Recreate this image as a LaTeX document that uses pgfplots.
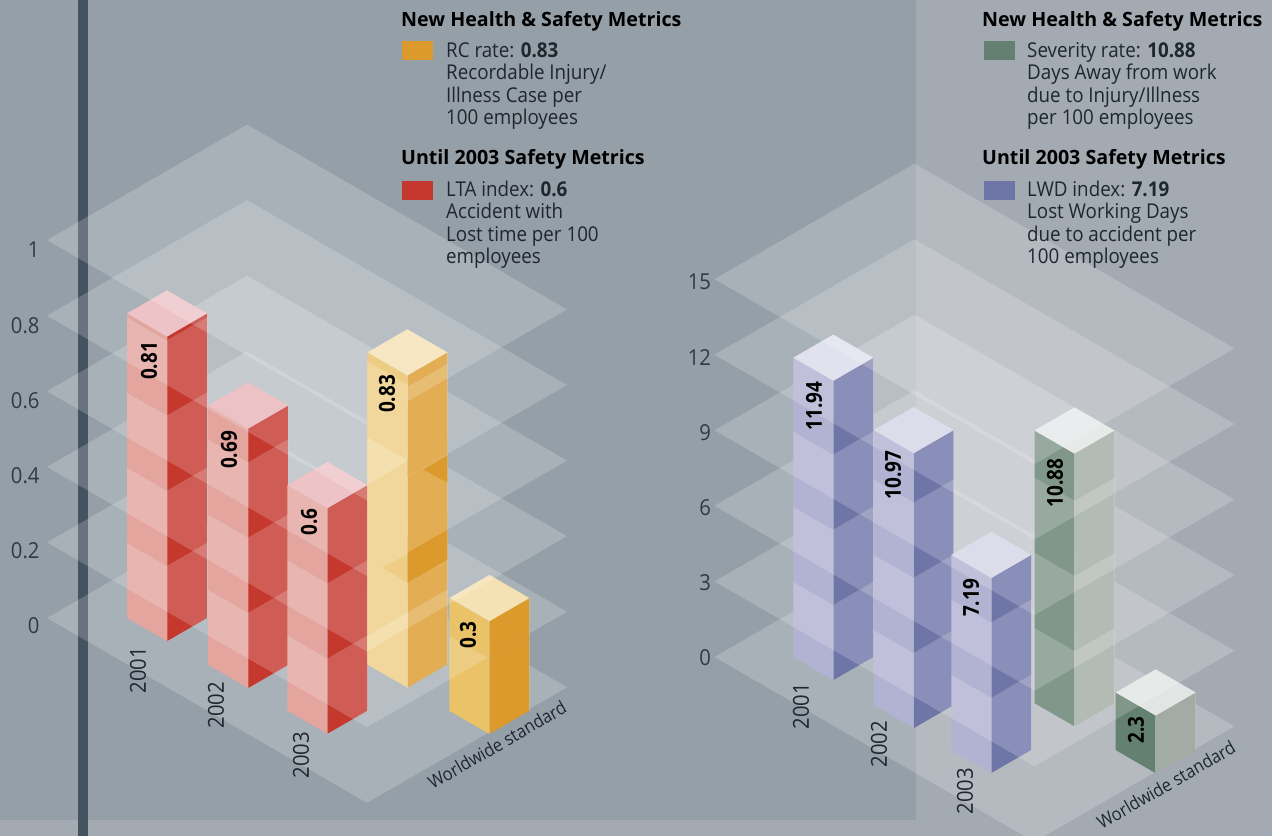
\documentclass[border=0pt]{standalone}
\usepackage{fontspec}
\setmainfont{Open Sans}
\newfontfamily\narrowb[FakeStretch=0.92]{Open Sans}
\newfontfamily\narrowc[FakeStretch=0.86]{Open Sans}
\usepackage{pgfplots}
\pgfplotsset{compat=1.18}

\definecolor{bgdark}{RGB}{149,159,167}
\definecolor{bglight}{RGB}{163,170,177}
\definecolor{band}{RGB}{69,83,97}
\definecolor{inktick}{RGB}{46,58,70}
\definecolor{inkbody}{RGB}{30,38,46}
% bar faces: left, right, top
\definecolor{redL}{RGB}{227,165,158}
\definecolor{redR}{RGB}{197,56,46}
\definecolor{redT}{RGB}{237,195,199}
\definecolor{redU}{RGB}{233,181,186}
\definecolor{yelL}{RGB}{234,194,103}
\definecolor{yelL1}{RGB}{238,205,132}
\definecolor{yelL2}{RGB}{241,215,155}
\definecolor{yelL3}{RGB}{244,224,175}
\definecolor{yelR}{RGB}{220,154,44}
\definecolor{yelR1}{RGB}{227,173,84}
\definecolor{yelT}{RGB}{245,226,180}
\definecolor{bluL}{RGB}{178,178,210}
\definecolor{bluR}{RGB}{110,118,168}
\definecolor{bluT}{RGB}{220,220,235}
\definecolor{bluU}{RGB}{212,212,230}
\definecolor{grnL}{RGB}{100,128,112}
\definecolor{grnR}{RGB}{162,172,164}
\definecolor{grnT}{RGB}{225,230,228}

\pgfplotsset{
  isochart/.style={
    anchor=origin, disabledatascaling, clip=false,
    x={(40pt,-23.1pt)}, y={(40pt,23.1pt)},
    xmin=0, xmax=8, ymin=0, ymax=5, zmin=0,
    xtick=\empty, ytick=\empty,
    axis line style={draw=none},
    tick style={draw=none},
    /pgf/number format/assume math mode=true,
    ticklabel style={font=\fontsize{22}{22}\selectfont\narrowb, text=inktick},
  },
}

% one translucent level
\newcommand\plane[1]{%
  \addplot3[fill=white, draw=none, fill opacity=0.19] coordinates {(0,0,#1) (8,0,#1) (8,5,#1) (0,5,#1)};}

% part of a bar between two levels: u0 u1 v0 v1 value colour top-colour zlo zhi
\newcommand\block[9]{%
  \ifdim #8pt<#5pt
    \pgfmathsetmacro\ztop{min(#5,#9)}%
    \addplot3[fill=#6L, draw=none] coordinates {(#1,#3,#8) (#2,#3,#8) (#2,#3,\ztop) (#1,#3,\ztop)};
    \addplot3[fill=#6R, draw=none] coordinates {(#2,#3,#8) (#2,#4,#8) (#2,#4,\ztop) (#2,#3,\ztop)};
    \addplot3[draw=white, draw opacity=0.18, line width=0.6pt] coordinates {(#2,#3,#8) (#2,#3,\ztop)};
    \addplot3[draw=white, draw opacity=0.18, line width=0.6pt] coordinates {(#2,#4,#8) (#2,#4,\ztop)};
  \fi
  \ifdim #8pt>#5pt\else\ifdim #9pt>#5pt
    \addplot3[fill=#7, draw=none] coordinates {(#1,#3,#5) (#2,#3,#5) (#2,#4,#5) (#1,#4,#5)};
  \fi\fi}

% back to front
\newcommand\barsA[2]{%
  \block{1}{2}{1}{2}{0.81}{red}{redT}{#1}{#2}
  \block{3.03}{4.03}{1}{2}{0.69}{red}{redU}{#1}{#2}
  \block{5.01}{6.01}{3}{4}{0.83}{yel}{yelT}{#1}{#2}
  \block{5.01}{6.01}{1}{2}{0.6}{red}{redT}{#1}{#2}
  \block{7.04}{8.04}{3.02}{4.02}{0.3}{yel}{yelT}{#1}{#2}}
% the 2003 bar is drawn taller in the reference than its 7.19 label
\newcommand\barsB[2]{%
  \block{0.985}{1.985}{0.985}{1.985}{11.94}{blu}{bluT}{#1}{#2}
  \block{3.03}{4.03}{0.95}{1.95}{10.97}{blu}{bluU}{#1}{#2}
  \block{5}{6}{3}{4}{10.88}{grn}{grnT}{#1}{#2}
  \block{4.97}{5.97}{0.95}{1.95}{7.78}{blu}{bluU}{#1}{#2}
  \block{7.03}{8.03}{3}{4}{2.3}{grn}{grnT}{#1}{#2}}

\newcommand\ltitle[3]{\node[anchor=base west, inner sep=0pt, font=\fontsize{19.65}{20}\selectfont\bfseries, text=black] at (#1pt,-#2pt) {#3};}
\newcommand\lbody[3]{\node[anchor=base west, inner sep=0pt, font=\fontsize{20.4}{20}\selectfont\narrowb, text=inkbody] at (#1pt,-#2pt) {#3};}
\newcommand\vlabel[3]{\node[rotate=90, inner sep=0pt, font=\fontsize{22}{22}\selectfont\narrowc\bfseries, text=black] at (#1pt,-#2pt) {#3};}
\newcommand\xlabel[3]{\node[rotate=90, inner sep=0pt, font=\fontsize{22}{22}\selectfont\narrowb, text=inkbody] at (#1pt,-#2pt) {#3};}

\begin{document}
\begin{tikzpicture}[x=1pt,y=1pt]
\path[use as bounding box] (0,0) rectangle (1272,-836);
\clip (0,0) rectangle (1272,-836);
\fill[bglight] (0,0) rectangle (1272,-836);
\fill[bgdark] (0,0) rectangle (916,-820);
\fill[band] (78,0) rectangle (88,-836);

\begin{axis}[isochart, at={(47pt,-618pt)}, z={(0pt,376pt)}, zmax=1,
    ztick={0,0.2,0.4,0.6,0.8,1},
    z tick label style={anchor=east, yshift=-8pt, xshift=-4pt}]
  \plane{0}     \barsA{0}{0.2}
  \plane{0.201} \barsA{0.2}{0.4}
  \plane{0.402} \barsA{0.4}{0.6}
  \plane{0.603} \barsA{0.6}{0.8}
  \plane{0.804} \barsA{0.8}{1}
  \plane{1.005}
  % RC bar, left face: nearly one tone in the reference
  \addplot3[fill=yelL2, draw=none] coordinates {(5.01,3,0) (6.01,3,0) (6.01,3,0.806) (5.01,3,0.806)};
  \addplot3[fill=yelL3, draw=none] coordinates {(5.01,3,0.0346) (6.01,3,0.16) (6.01,3,0.2) (5.01,3,0.0745)};
  \addplot3[fill=yelL3, draw=none] coordinates {(5.01,3,0.6037) (6.01,3,0.6037) (5.01,3,0.4761)};
  \addplot3[fill=yelL1, draw=none] coordinates {(5.385,3,0.281) (6.01,3,0.354) (6.01,3,0.279)};
  % RC bar, right face: parts that the levels do not cover in the reference
  \addplot3[fill=yelR, draw=none] coordinates {(6.01,3,0.279) (6.01,4,0.279) (6.01,4,0.359) (6.01,3,0.359)};
  \addplot3[fill=yelR1, draw=none] coordinates {(6.01,3,0.359) (6.01,4,0.359) (6.01,4,0.402) (6.01,3,0.402)};
  \addplot3[fill=yelR1, draw=none] coordinates {(6.01,3,0.561) (6.01,4,0.561) (6.01,4,0.604) (6.01,3,0.604)};
  \addplot3[fill=yelR, draw=none] coordinates {(6.01,3.4,0.555) (6.01,4,0.556) (6.01,4,0.484)};
  \addplot3[draw=white, draw opacity=0.18, line width=0.6pt] coordinates {(6.01,3,0) (6.01,3,0.83)};
\end{axis}

\begin{axis}[isochart, at={(714.5pt,-657pt)}, z={(0pt,25.067pt)}, zmax=15,
    ztick={0,3,6,9,12,15},
    z tick label style={anchor=east, yshift=-1pt}]
  \plane{0}      \barsB{0}{3}
  \plane{3.015}  \barsB{3}{6}
  \plane{6.03}   \barsB{6}{9}
  \plane{9.045}  \barsB{9}{12}
  \plane{12.06}  \barsB{12}{15}
  \plane{15.075}
\end{axis}

% value labels
\vlabel{149}{361}{0.81}
\vlabel{229}{450}{0.69}
\vlabel{309}{522}{0.6}
\vlabel{387}{394}{0.83}
\vlabel{468}{635}{0.3}
\vlabel{814}{406}{11.94}
\vlabel{893}{475}{10.97}
\vlabel{971}{598}{7.19}
\vlabel{1055}{483}{10.88}
\vlabel{1136}{730}{2.3}

% category labels
\xlabel{138}{670}{2001}
\xlabel{216}{705}{2002}
\xlabel{301}{755}{2003}
\xlabel{801}{706}{2001}
\xlabel{879}{744}{2002}
\xlabel{965}{791}{2003}
\node[rotate=30, inner sep=0pt, font=\fontsize{18}{18}\selectfont\narrowb, text=inkbody] at (497pt,-745pt) {Worldwide standard};
\node[rotate=30, inner sep=0pt, font=\fontsize{18}{18}\selectfont\narrowb, text=inkbody] at (1166pt,-785pt) {Worldwide standard};

% legends
\ltitle{401}{26}{New Health \& Safety Metrics}
\fill[yelR] (402,-41) rectangle (433,-60);
\lbody{446}{57}{RC rate: \textbf{0.83}}
\lbody{446}{79}{Recordable Injury/}
\lbody{446}{102}{Illness Case per}
\lbody{446}{124}{100 employees}
\ltitle{401}{164}{Until 2003 Safety Metrics}
\fill[redR] (402,-181) rectangle (433,-200);
\lbody{446}{196}{LTA index: \textbf{0.6}}
\lbody{446}{218}{Accident with}
\lbody{446}{241}{Lost time per 100}
\lbody{446}{263}{employees}

\ltitle{982}{26}{New Health \& Safety Metrics}
\fill[grnL] (984,-41) rectangle (1015,-60);
\lbody{1027}{57}{Severity rate: \textbf{10.88}}
\lbody{1027}{79}{Days Away from work}
\lbody{1027}{102}{due to Injury/Illness}
\lbody{1027}{124}{per 100 employees}
\ltitle{982}{164}{Until 2003 Safety Metrics}
\fill[bluR] (984,-181) rectangle (1015,-200);
\lbody{1027}{196}{LWD index: \textbf{7.19}}
\lbody{1027}{218}{Lost Working Days}
\lbody{1027}{241}{due to accident per}
\lbody{1027}{263}{100 employees}
\end{tikzpicture}
\end{document}
